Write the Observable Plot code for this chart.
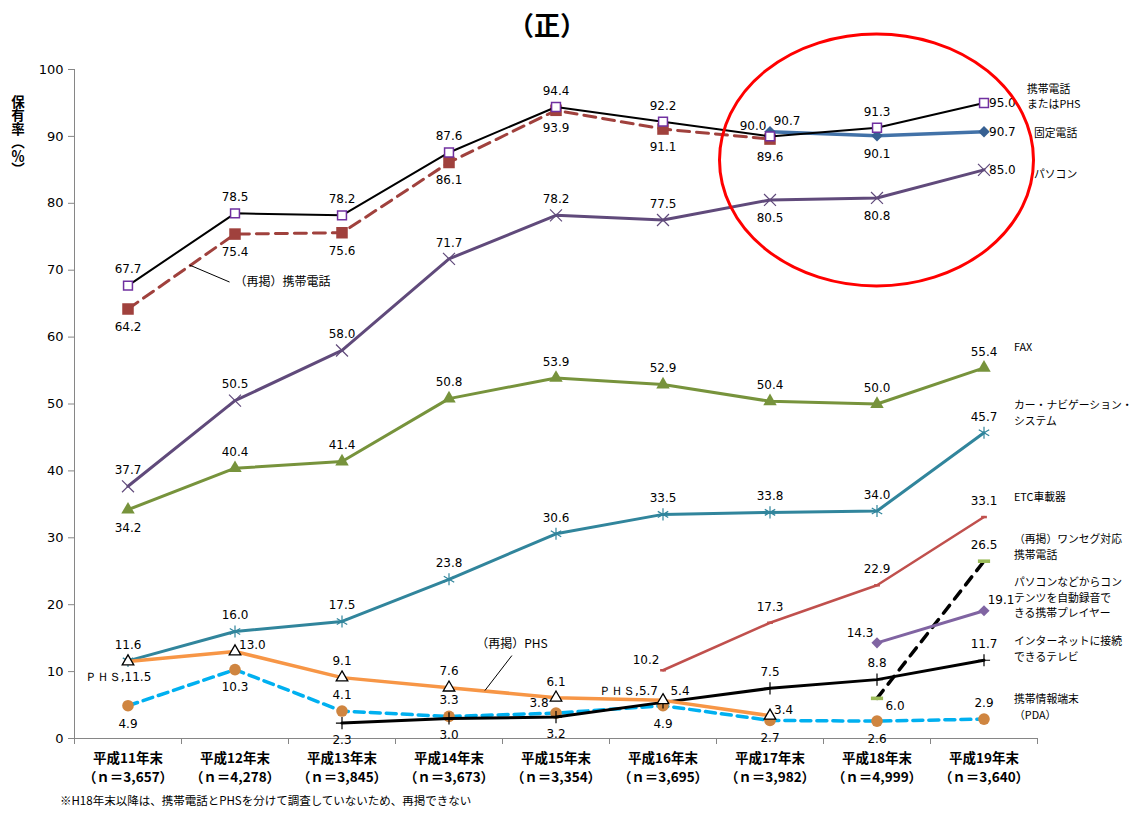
<!DOCTYPE html>
<html><head><meta charset="utf-8">
<script src="https://cdn.jsdelivr.net/npm/d3@7"></script>
<script src="https://cdn.jsdelivr.net/npm/@observablehq/plot@0.6"></script>
<style>
body{margin:0;background:#fff;width:1136px;height:814px;position:relative;overflow:hidden;font-family:"Noto Sans CJK JP",sans-serif;}
#title{position:absolute;left:0;top:1px;width:1094px;text-align:center;font-size:26px;font-weight:bold;line-height:46px;}
#ylab{position:absolute;left:10px;top:95px;writing-mode:vertical-rl;text-orientation:mixed;font-weight:bold;font-size:13.5px;line-height:16px;}
#chart{position:absolute;left:0;top:48px;}
#note{position:absolute;left:60px;top:792px;font-size:11.5px;line-height:16px;}
</style></head>
<body>
<div id="title">（正）</div>
<div id="ylab">保有率（％）</div>
<div id="chart"></div>
<div id="note">※H18年末以降は、携帯電話とPHSを分けて調査していないため、再掲できない</div>
<script>
// ---- data ----
const categories = ["平成11年末","平成12年末","平成13年末","平成14年末","平成15年末","平成16年末","平成17年末","平成18年末","平成19年末"];
const sampleSizes = ["3,657","4,278","3,845","3,673","3,354","3,695","3,982","4,999","3,640"];
const yTicks = [0,10,20,30,40,50,60,70,80,90,100];

const mobileOrPhs = [67.7,78.5,78.2,87.6,94.4,92.2,90.0,91.3,95.0];
const mobilePhone = [64.2,75.4,75.6,86.1,93.9,91.1,89.6,null,null];
const fixedPhone  = [null,null,null,null,null,null,90.7,90.1,90.7];
const pc          = [37.7,50.5,58.0,71.7,78.2,77.5,80.5,80.8,85.0];
const fax         = [34.2,40.4,41.4,50.8,53.9,52.9,50.4,50.0,55.4];
const carNavi     = [11.6,16.0,17.5,23.8,30.6,33.5,33.8,34.0,45.7];
const etc         = [null,null,null,null,null,10.2,17.3,22.9,33.1];
const oneSeg      = [null,null,null,null,null,null,null,6.0,26.5];
const player      = [null,null,null,null,null,null,null,14.3,19.1];
const netTv       = [null,null,2.3,3.0,3.2,5.4,7.5,8.8,11.7];
const pda         = [4.9,10.3,4.1,3.3,3.8,4.9,2.7,2.6,2.9];
const phs         = [11.5,13.0,9.1,7.6,6.1,5.7,3.4,null,null];

const seriesLabels = {
  mobileOrPhs:"携帯電話\nまたはPHS", fixedPhone:"固定電話", pc:"パソコン", fax:"FAX",
  carNavi:"カー・ナビゲーション・\nシステム", etc:"ETC車載器", oneSeg:"（再掲）ワンセグ対応\n携帯電話",
  player:"パソコンなどからコン\nテンツを自動録音で\nきる携帯プレイヤー", netTv:"インターネットに接続\nできるテレビ",
  pda:"携帯情報端末\n（PDA）"
};
const phsPrefix = "ＰＨＳ,";
const callouts = [
  {values: mobilePhone, seg: 0, t: 0.58, dx: 40, dy: 17, text: "（再掲）携帯電話", anchor: "start"},
  {values: phs, seg: 3, t: 0.34, dx: 27, dy: -35, text: "（再掲）PHS", anchor: "middle"}
];

// ---- layout / style config ----
const hbar = {draw(ctx, size){ const w = Math.sqrt(size)*1.25, h = Math.max(2.5, w/3.4); ctx.rect(-w/2, -h/2, w, h); }};
const series = [
  {key:"mobilePhone", values: mobilePhone, stroke:"#A0413D", sw:3, dash:"12,7", symbol:"square", r:6.5, fill:"#A0413D", ms:"none"},
  {key:"fixedPhone", values: fixedPhone, stroke:"#4272A8", sw:3.5, symbol:"diamond2", r:5.2, fill:"#376092", ms:"none"},
  {key:"mobileOrPhs", values: mobileOrPhs, stroke:"#000", sw:2, symbol:"square", r:5, fill:"#fff", ms:"#7030A0", mw:1.5},
  {key:"pc", values: pc, stroke:"#604A7B", sw:3, symbol:"times", r:5.5, fill:"none", ms:"#604A7B", mw:1.2},
  {key:"fax", values: fax, stroke:"#77933C", sw:3, symbol:"triangle", r:5, fill:"#77933C", ms:"none"},
  {key:"etc", values: etc, stroke:"#C0504D", sw:2.5, symbol:hbar, r:2.6, fill:"#C0504D", ms:"none"},
  {key:"oneSeg", values: oneSeg, stroke:"#000", sw:3.5, dash:"10,8", symbol:hbar, r:5.5, fill:"#9BBB59", ms:"none"},
  {key:"player", values: player, stroke:"#8064A2", sw:3, symbol:"diamond2", r:5, fill:"#8064A2", ms:"none"},
  {key:"carNavi", values: carNavi, stroke:"#31859C", sw:3, symbol:"asterisk", r:5.7, fill:"none", ms:"#31859C", mw:1.2},
  {key:"pda", values: pda, stroke:"#00B0F0", sw:3.5, dash:"10,6", symbol:"circle", r:5.8, fill:"#CF8540", ms:"none"},
  {key:"netTv", values: netTv, stroke:"#000", sw:3, symbol:"plus", r:4, fill:"none", ms:"#000", mw:1.2},
  {key:"phs", values: phs, stroke:"#F79646", sw:3.5, symbol:"triangle", r:4.3, fill:"#fff", ms:"#000", mw:1.3}
];
const placement = {
  mobileOrPhs: ["a","a","a","a","a","a","al","a","r"],
  mobilePhone: ["b","b","b","b","b","b","b"],
  fixedPhone:  [,,,,,,"ar","b","r"],
  pc:          ["a","a","a","a","a","a","b","b","r"],
  fax:         ["b","a","a","a","a","a","a","a","a"],
  carNavi:     ["a","a","a","a","a","a","a","a","a"],
  etc:         [,,,,,"al","a","a","a"],
  oneSeg:      [,,,,,,,"rb","a"],
  player:      [,,,,,,,"al","ar"],
  netTv:       [,,"bb","bb","bb","ar","a","a","a"],
  pda:         ["b","b","a","a","al","b","b","b","a"],
  phs:         ["bl","ru","a","a","a","l","ru"]
};
const offsets = {
  a:{dy:-16}, b:{dy:18}, bb:{dy:17}, r:{dx:5, dy:0, textAnchor:"start"}, ru:{dx:4, dy:-6, textAnchor:"start"},
  al:{dx:-17, dy:-10}, ar:{dx:17, dy:-11}, rb:{dx:18, dy:8}, l:{dx:-5, dy:-9, textAnchor:"end"}, bl:{dx:-10, dy:16}
};
const legendLayout = {
  mobileOrPhs:{y:96.1, dx:43}, fixedPhone:{y:90.7, dx:50}, pc:{y:84.5, dx:50}, fax:{y:58.6, dx:30},
  carNavi:{y:48.8, dx:30}, etc:{y:36.3, dx:30}, oneSeg:{y:28.8, dx:30}, player:{y:21.2, dx:30},
  netTv:{y:13.5, dx:30}, pda:{y:4.9, dx:30}
};

// ---- marks ----
const marks = [];
marks.push(Plot.ruleX([-0.5], {stroke:"#868686"}));
marks.push(Plot.ruleY([0], {stroke:"#868686"}));
marks.push(Plot.axisY(yTicks, {label:null, tickSize:6, tickPadding:5, stroke:"#868686", fontSize:13, fontFamily:"DejaVu Sans", color:"#000"}));
marks.push(Plot.axisX(d3.range(-0.5, 9, 1), {label:null, tickSize:6, tickFormat:() => "", stroke:"#868686"}));
marks.push(Plot.axisX(d3.range(0, 9), {label:null, tickSize:0, tickPadding:12, tickFormat: i => categories[i] + "\n（ｎ＝" + sampleSizes[i] + "）",
  fontSize:13.5, fontFamily:"Noto Sans CJK JP", fontWeight:"bold", lineHeight:1.35}));

for (const s of series) {
  const pts = s.values.map((v, i) => ({x: i, y: v}));
  marks.push(Plot.line(pts, {x:"x", y:"y", stroke:s.stroke, strokeWidth:s.sw, strokeDasharray:s.dash, strokeLinejoin:"round"}));
  marks.push(Plot.dot(pts.filter(d => d.y != null), {x:"x", y:"y", symbol:s.symbol, r:s.r, fill:s.fill, stroke:s.ms, strokeWidth:s.mw || 1}));
}

// data labels
const labelRows = [];
for (const s of series) {
  const pl = placement[s.key];
  s.values.forEach((v, i) => {
    if (v == null || !pl[i]) return;
    let text = v.toFixed(1);
    if (s.key === "phs" && (pl[i] === "bl" || pl[i] === "l")) text = phsPrefix + text;
    labelRows.push({x: i, y: v, text, pos: pl[i]});
  });
}
for (const [code, o] of Object.entries(offsets)) {
  marks.push(Plot.text(labelRows.filter(d => d.pos === code), {x:"x", y:"y", text:"text", dx:o.dx || 0, dy:o.dy || 0,
    textAnchor:o.textAnchor || "middle", fontSize:12, fontFamily:"DejaVu Sans", fill:"#000"}));
}
// series names (right side)
for (const [key, lay] of Object.entries(legendLayout)) {
  marks.push(Plot.text([seriesLabels[key]], {x: categories.length - 1, y: lay.y, text: d => d, dx: lay.dx, textAnchor:"start",
    lineAnchor:"middle", lineHeight:1.45, fontSize:10.8, fontFamily:"Noto Sans CJK JP", fill:"#000"}));
}

const chart = Plot.plot({
  width:1136, height:745, marginLeft:74, marginRight:99, marginTop:21, marginBottom:55,
  x:{domain:[-0.5, 8.5], axis:null},
  y:{domain:[0, 100], axis:null},
  style:{fontFamily:"DejaVu Sans", fontSize:"12px", color:"#000", background:"transparent", overflow:"visible"},
  marks
});
chart.style.overflow = "visible";
document.getElementById("chart").appendChild(chart);

// annotations: leaders and highlight ellipse
const sx = chart.scale("x"), sy = chart.scale("y");
const svg = d3.select(chart);
const ann = svg.append("g");
for (const c of callouts) {
  const v0 = c.values[c.seg], v1 = c.values[c.seg + 1];
  const px = sx.apply(c.seg + c.t), py = sy.apply(v0 + c.t * (v1 - v0));
  const ex = px + c.dx, ey = py + c.dy;
  ann.append("line").attr("x1", px).attr("y1", py).attr("x2", ex).attr("y2", ey).attr("stroke", "#000").attr("stroke-width", 1);
  const t = ann.append("text").attr("font-family", "Noto Sans CJK JP").attr("font-size", 12).attr("fill", "#000").text(c.text);
  if (c.anchor === "start") t.attr("x", ex + 5).attr("y", ey + 1).attr("text-anchor", "start").attr("dominant-baseline", "middle");
  else t.attr("x", ex).attr("y", ey - 11).attr("text-anchor", "middle").attr("dominant-baseline", "middle");
}
ann.append("ellipse").attr("cx", sx.apply(7)).attr("cy", sy.apply(86.4)).attr("rx", 157).attr("ry", 126)
  .attr("fill", "none").attr("stroke", "#FF0000").attr("stroke-width", 3);
</script>
</body></html>
